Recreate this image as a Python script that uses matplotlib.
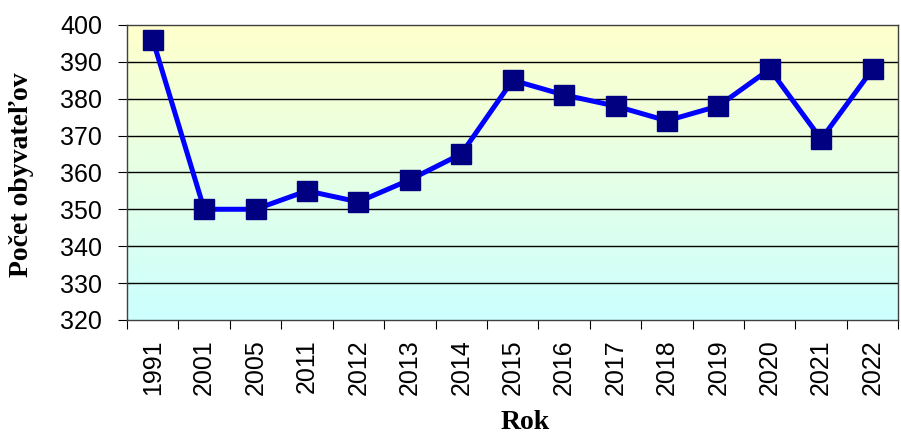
import matplotlib.pyplot as plt
import numpy as np

# data
years = ['1991', '2001', '2005', '2011', '2012', '2013', '2014', '2015',
         '2016', '2017', '2018', '2019', '2020', '2021', '2022']
population = [396, 350, 350, 355, 352, 358, 365, 385,
              381, 378, 374, 378, 388, 369, 388]
y_ticks = [320, 330, 340, 350, 360, 370, 380, 390, 400]

fig = plt.figure(figsize=(9.01, 4.37), dpi=100)
ax = fig.add_axes([0.141, 0.268, 0.856, 0.675])

n = len(years)
x = np.arange(n)

# yellow -> cyan background gradient
top = np.array([1.0, 1.0, 0.8])
bottom = np.array([0.8, 1.0, 1.0])
t = np.linspace(0, 1, 256)[:, None]
grad = (top * (1 - t) + bottom * t)[:, None, :]
ax.imshow(grad, aspect='auto', extent=(-0.5, n - 0.5, 320, 400),
          origin='upper', zorder=0)

for v in y_ticks[1:-1]:
    ax.axhline(v, color='black', linewidth=1, zorder=1)

ax.plot(x, population, color='#0000FF', linewidth=3.6, marker='s',
        markersize=14, markerfacecolor='#000080', markeredgecolor='#000080',
        zorder=3)

ax.set_xlim(-0.5, n - 0.5)
ax.set_ylim(320, 400)
ax.set_yticks(y_ticks)
ax.set_yticklabels([str(v) for v in y_ticks], fontfamily='Liberation Sans',
                   fontsize=18)

ax.set_xticks(np.arange(n + 1) - 0.5)
ax.set_xticklabels([])
ax.set_xticks(x, minor=True)
ax.set_xticklabels(years, minor=True, rotation=90,
                   fontfamily='Liberation Sans', fontsize=18)
ax.tick_params(axis='x', which='minor', length=0, pad=14)
ax.tick_params(axis='x', which='major', length=6.5, direction='out')
ax.tick_params(axis='y', length=6.5, direction='out', pad=11.5)

for s in ax.spines.values():
    s.set_color('#404040')
    s.set_linewidth(1)

fig.text(0.0244, 0.6, 'Počet obyvateľov', fontfamily='Liberation Serif',
         fontweight='bold', fontsize=20, rotation=90, ha='center', va='center')
fig.text(0.583, 0.004, 'Rok', fontfamily='Liberation Serif',
         fontweight='bold', fontsize=20, ha='center', va='bottom')

fig.savefig('out.png', dpi=100)
